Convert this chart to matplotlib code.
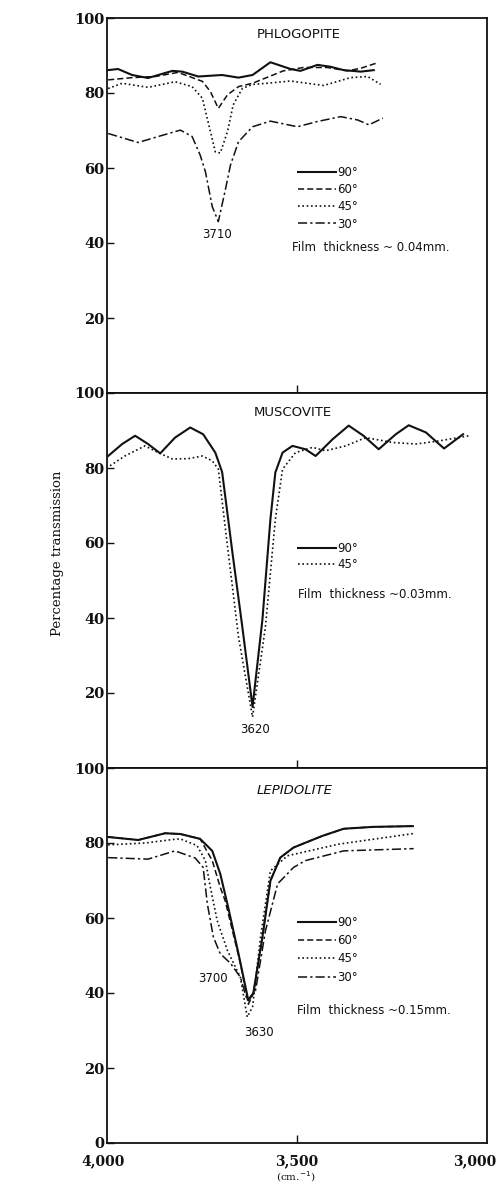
import matplotlib
matplotlib.use("Agg")
import matplotlib.pyplot as plt
import matplotlib.transforms as mtransforms

# --- values (wavenumber cm-1, % transmission) ---
PHLOG_90_WN = [3997, 3971, 3934, 3892, 3828, 3802, 3760, 3697, 3654, 3617, 3570, 3517, 3491, 3446,
               3412, 3377, 3332, 3298]
PHLOG_90_T = [86.1, 86.4, 84.8, 84.0, 85.9, 85.7, 84.4, 84.8, 84.1, 84.8, 88.2, 86.4, 85.9, 87.5,
              87.0, 86.1, 85.7, 86.1]
PHLOG_60_WN = [3997, 3934, 3873, 3813, 3749, 3728, 3707, 3683, 3654, 3617, 3536, 3483, 3420, 3367, 3332, 3293]
PHLOG_60_T = [83.5, 84.1, 84.4, 85.5, 83.1, 80.4, 75.9, 79.5, 81.7, 82.6, 85.9, 86.8, 86.8, 85.9, 86.6, 87.9]
PHLOG_45_WN = [3997, 3960, 3892, 3821, 3776, 3749, 3734, 3715, 3702, 3683, 3668, 3644, 3617, 3578,
               3517, 3430, 3359, 3314, 3280]
PHLOG_45_T = [81.2, 82.6, 81.5, 83.0, 81.7, 78.6, 72.3, 64.3, 64.0, 69.7, 76.8, 81.2, 82.3, 82.6,
              83.2, 82.0, 84.1, 84.4, 82.3]
PHLOG_30_WN = [3997, 3918, 3865, 3807, 3776, 3755, 3741, 3723, 3707, 3689, 3675, 3654, 3617, 3570,
               3499, 3446, 3385, 3340, 3311, 3274]
PHLOG_30_T = [69.2, 66.8, 68.4, 70.1, 68.4, 63.5, 59.0, 49.7, 45.7, 54.0, 60.8, 67.0, 71.0, 72.5,
              71.0, 72.4, 73.7, 72.8, 71.5, 73.3]

MUSC_90_WN = [3997, 3960, 3926, 3892, 3860, 3821, 3781, 3747, 3715, 3697, 3670, 3644, 3617, 3591,
              3570, 3557, 3538, 3512, 3478, 3451, 3406, 3364, 3325, 3285, 3240, 3206, 3161, 3113, 3063]
MUSC_90_T = [83.2, 86.4, 88.6, 86.4, 83.9, 88.1, 90.8, 89.0, 84.1, 78.9, 57.5, 37.7, 16.3, 39.6,
             66.3, 78.8, 84.1, 85.9, 85.0, 83.2, 87.7, 91.3, 88.6, 85.0, 89.0, 91.4, 89.5, 85.2, 89.0]
MUSC_45_WN = [3992, 3953, 3900, 3865, 3828, 3786, 3749, 3723, 3707, 3681, 3654, 3617, 3583, 3557,
              3538, 3504, 3459, 3425, 3372, 3319, 3248, 3187, 3127, 3047]
MUSC_45_T = [80.6, 83.2, 85.9, 84.1, 82.4, 82.5, 83.2, 81.9, 79.7, 57.5, 35.0, 13.6, 37.7, 66.3,
             79.7, 84.1, 85.5, 84.6, 85.9, 88.1, 86.8, 86.4, 87.2, 88.6]

LEPI_90_WN = [3997, 3918, 3847, 3807, 3755, 3723, 3702, 3681, 3654, 3628, 3615, 3591, 3570, 3544,
              3509, 3433, 3377, 3300, 3195]
LEPI_90_T = [81.6, 80.8, 82.6, 82.4, 81.1, 77.9, 71.8, 62.8, 50.5, 38.0, 39.9, 54.9, 69.9, 76.1,
             78.8, 81.9, 83.8, 84.3, 84.5]
LEPI_60_WN = [3997, 3918, 3847, 3807, 3755, 3723, 3702, 3689, 3649, 3628, 3615, 3591, 3570, 3544,
              3509, 3433, 3377, 3300, 3195]
LEPI_60_T = [81.6, 80.8, 82.6, 82.4, 81.1, 75.3, 68.2, 64.6, 47.9, 37.0, 39.9, 54.9, 69.9, 76.1,
             78.8, 81.9, 83.8, 84.3, 84.5]
LEPI_45_WN = [3997, 3900, 3821, 3807, 3763, 3741, 3728, 3710, 3683, 3649, 3631, 3617, 3596, 3570,
              3525, 3390, 3195]
LEPI_45_T = [79.5, 80.0, 81.0, 81.1, 79.3, 75.3, 68.2, 59.3, 51.3, 44.2, 33.6, 36.3, 54.9, 72.6,
             76.6, 79.7, 82.5]
LEPI_30_WN = [3997, 3892, 3821, 3768, 3747, 3736, 3720, 3702, 3675, 3649, 3631, 3609, 3583, 3551,
              3509, 3478, 3377, 3193]
LEPI_30_T = [76.1, 75.7, 77.9, 76.0, 73.5, 63.8, 54.9, 50.5, 47.9, 44.2, 38.0, 40.7, 56.6, 69.1,
             73.5, 75.3, 77.9, 78.5]

Y_TICKS = [0, 20, 40, 60, 80, 100]
X_TICKS = [4000, 3500, 3000]
X_TICK_LABELS = ["4,000", "3,500", "3,000"]

STYLES = {
    "90°": dict(linestyle="-", linewidth=1.5),
    "60°": dict(linestyle=(0, (4, 2)), linewidth=1.1),
    "45°": dict(linestyle=(0, (1, 1.6)), linewidth=1.2),
    "30°": dict(linestyle=(0, (6, 2, 1.5, 2)), linewidth=1.1),
}

INK = "#111111"
TICK_FONT = dict(family="DejaVu Serif", weight="bold", size=10.5)
SANS = "DejaVu Sans"

fig = plt.figure(figsize=(5, 11.84), dpi=100)

left, width = 107 / 500, 380 / 500
panel_h = 375 / 1184
bottom0 = 41 / 1184

panels = [
    dict(name="PHLOGOPITE", style="normal", title_xy=(0.505, 0.955),
         curves=[("90°", PHLOG_90_WN, PHLOG_90_T), ("60°", PHLOG_60_WN, PHLOG_60_T),
                 ("45°", PHLOG_45_WN, PHLOG_45_T), ("30°", PHLOG_30_WN, PHLOG_30_T)],
         legend_top=0.605, spacing=0.35, film=(0.487, 0.389, "Film  thickness ~ 0.04mm."),
         peaks=[("3710", 3710, 42.3)]),
    dict(name="MUSCOVITE", style="normal", title_xy=(0.488, 0.949),
         curves=[("90°", MUSC_90_WN, MUSC_90_T), ("45°", MUSC_45_WN, MUSC_45_T)],
         legend_top=0.603, spacing=0.3, film=(0.503, 0.463, "Film  thickness ~0.03mm."),
         peaks=[("3620", 3610, 10.2)]),
    dict(name="LEPIDOLITE", style="italic", title_xy=(0.495, 0.939),
         curves=[("90°", LEPI_90_WN, LEPI_90_T), ("60°", LEPI_60_WN, LEPI_60_T),
                 ("45°", LEPI_45_WN, LEPI_45_T), ("30°", LEPI_30_WN, LEPI_30_T)],
         legend_top=0.606, spacing=0.45, film=(0.5, 0.354, "Film  thickness ~0.15mm."),
         peaks=[("3700", 3720, 43.9), ("3630", 3599, 29.5)]),
]

for i, p in enumerate(panels):
    bottom = bottom0 + (2 - i) * panel_h
    ax = fig.add_axes([left, bottom, width, panel_h])
    for label, wn, t in p["curves"]:
        ax.plot(wn, t, color=INK, label=label, **STYLES[label])

    ax.set_xlim(4000, 3000)
    ax.set_ylim(0, 100)
    for s in ax.spines.values():
        s.set_linewidth(1.3)
        s.set_color(INK)

    is_last = i == len(panels) - 1
    ax.set_yticks(Y_TICKS)
    ax.set_yticklabels(["0" if (v == 0 and is_last) else ("" if v == 0 else str(v)) for v in Y_TICKS],
                       fontdict=TICK_FONT)
    ax.tick_params(axis="y", direction="in", length=5, width=1, pad=2, colors=INK)

    if is_last:
        ax.set_xticks(X_TICKS)
        ax.set_xticklabels(X_TICK_LABELS, fontdict=dict(TICK_FONT, size=10))
        ax.tick_params(axis="x", direction="in", length=6, width=1, pad=8, colors=INK)
        ticks = ax.xaxis.get_major_ticks()
        ticks[0].tick1line.set_visible(False)
        ticks[2].tick1line.set_visible(False)
        # nudge the end labels the way they sit in the print
        for lbl, dx in zip(ax.get_xticklabels(), [-4, 0, -12]):
            lbl.set_transform(lbl.get_transform() +
                              mtransforms.ScaledTranslation(dx / 100, 0, fig.dpi_scale_trans))
        ax.text(0.497, -0.091, "(cm.$^{-1}$)", transform=ax.transAxes, ha="center", va="center",
                family="DejaVu Serif", fontsize=7.5, color=INK)
    else:
        ax.set_xticks([3500])
        ax.set_xticklabels([])
        ax.tick_params(axis="x", direction="in", length=6, width=1, colors=INK)

    ax.text(p["title_xy"][0], p["title_xy"][1], p["name"], transform=ax.transAxes,
            ha="center", va="center", family=SANS, fontsize=9.5, style=p["style"], color=INK)

    leg = ax.legend(loc="upper left", bbox_to_anchor=(0.503, p["legend_top"]), frameon=False,
                    prop=dict(family=SANS, size=8.5), handlelength=3.2, handletextpad=0.1,
                    labelspacing=p["spacing"], borderpad=0, borderaxespad=0)
    for txt in leg.get_texts():
        txt.set_color(INK)

    fx, fy, ftxt = p["film"]
    ax.text(fx, fy, ftxt, transform=ax.transAxes, ha="left", va="center",
            family=SANS, fontsize=8.5, color=INK)

    for txt, wn, t in p["peaks"]:
        ax.text(wn, t, txt, ha="center", va="center", family=SANS, fontsize=8.5, color=INK)

fig.text(58 / 500, 1 - 553 / 1184, "Percentage transmission", rotation=90, ha="center", va="center",
         family="DejaVu Serif", fontsize=9.5, color=INK)

fig.savefig("out.png", dpi=100)
